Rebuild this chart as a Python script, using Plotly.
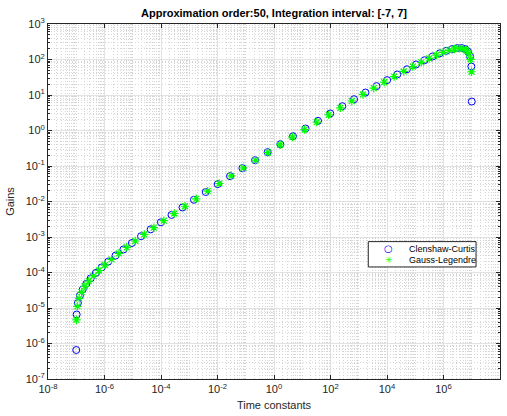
import plotly.graph_objects as go

# Clenshaw-Curtis: time constants and gains
cc_tau = [1.000e-7, 1.034e-7, 1.142e-7, 1.346e-7, 1.694e-7, 2.273e-7, 3.248e-7, 4.933e-7,
          7.958e-7, 1.360e-6, 2.455e-6, 4.676e-6, 9.367e-6, 1.967e-5, 4.321e-5, 9.890e-5,
          2.351e-4, 5.783e-4, 1.467e-3, 3.823e-3, 1.019e-2, 2.769e-2, 7.636e-2, 0.2127, 0.5966,
          1.676, 4.701, 13.10, 36.10, 98.09, 261.6, 681.6, 1729, 4254, 10111,
          23140, 50830, 106760, 213800, 407300, 735600, 1.257e6, 2.027e6, 3.079e6, 4.399e6,
          5.904e6, 7.429e6, 8.759e6, 9.673e6, 1.0e7]
cc_gain = [6.55e-7, 6.56e-6, 1.38e-5, 2.23e-5, 3.33e-5, 4.79e-5, 6.81e-5, 9.71e-5,
           1.39e-4, 2.03e-4, 2.99e-4, 4.46e-4, 6.78e-4, 1.05e-3, 1.64e-3, 2.60e-3,
           4.18e-3, 6.79e-3, 1.12e-2, 1.85e-2, 3.08e-2, 5.17e-2, 8.69e-2, 0.146, 0.246,
           0.412, 0.688, 1.138, 1.866, 3.026, 4.835, 7.605, 11.74, 17.77, 26.27,
           37.89, 53.18, 72.42, 95.50, 121.6, 149.1, 175.2, 196.7, 209.7, 210.5,
           196.4, 166.0, 120.6, 63.49, 6.545]

# Gauss-Legendre: time constants and gains
gl_tau = [1.018e-7, 1.100e-7, 1.266e-7, 1.548e-7, 2.011e-7, 2.774e-7, 4.056e-7, 6.279e-7,
          1.027e-6, 1.773e-6, 3.220e-6, 6.142e-6, 1.227e-5, 2.562e-5, 5.571e-5, 1.258e-4,
          2.942e-4, 7.099e-4, 1.762e-3, 4.481e-3, 1.164e-2, 3.075e-2, 8.236e-2, 0.2227, 0.6058,
          1.651, 4.489, 12.14, 32.52, 85.92, 223.1, 567.6, 1408.7, 3399, 7949,
          17953, 39038, 81487, 162827, 310508, 564201, 973335, 1.5926e6, 2.4646e6, 3.6044e6,
          4.9729e6, 6.4627e6, 7.9025e6, 9.0908e6, 9.8266e6]
gl_gain = [4.60e-6, 1.11e-5, 1.87e-5, 2.81e-5, 4.04e-5, 5.70e-5, 8.03e-5, 1.14e-4,
           1.62e-4, 2.35e-4, 3.44e-4, 5.12e-4, 7.72e-4, 1.18e-3, 1.83e-3, 2.88e-3,
           4.58e-3, 7.36e-3, 1.19e-2, 1.95e-2, 3.21e-2, 5.29e-2, 8.77e-2, 0.145, 0.240,
           0.397, 0.652, 1.064, 1.722, 2.754, 4.351, 6.772, 10.36, 15.56, 22.89,
           32.90, 46.11, 62.90, 83.29, 106.8, 132.4, 158.0, 180.9, 197.9, 205.5,
           200.7, 181.7, 148.0, 101.3, 45.20]

series_names = ["Clenshaw-Curtis", "Gauss-Legendre"]

x_exponents = [-8, -6, -4, -2, 0, 2, 4, 6, 8]
y_exponents = [-7, -6, -5, -4, -3, -2, -1, 0, 1, 2, 3]

x_ticks = [10.0 ** e for e in x_exponents]
x_ticktext = ["10<sup>%d</sup>" % e for e in x_exponents]
y_ticks = [10.0 ** e for e in y_exponents]
y_ticktext = ["10<sup>%d</sup>" % e for e in y_exponents]

# minor grid positions (MATLAB style: every 1..9 x decade, excluding major ticks)
x_minor = [k * 10.0 ** d for d in range(-8, 8) for k in range(1, 10)
           if not (k == 1 and d % 2 == 0)]
y_minor = [k * 10.0 ** d for d in range(-7, 3) for k in range(2, 10)]

FONT = "Liberation Sans, Arial, Helvetica, sans-serif"
AX = "#262626"
MINOR = "#d6d6d6"

fig = go.Figure()
# empty trace to hold the minor-grid overlay axes
fig.add_trace(go.Scatter(x=[], y=[], xaxis="x2", yaxis="y2", showlegend=False,
                         hoverinfo="skip", mode="markers"))
fig.add_trace(go.Scatter(
    x=cc_tau, y=cc_gain, mode="markers", name=series_names[0], showlegend=False,
    marker=dict(symbol="circle-open", size=7, color="#0000ff", line=dict(width=1, color="#0000ff")),
))
fig.add_trace(go.Scatter(
    x=gl_tau, y=gl_gain, mode="markers", name=series_names[1], showlegend=False,
    marker=dict(symbol="asterisk-open", size=7, color="#00ff00", line=dict(width=1.2, color="#00ff00")),
))

tickfont = dict(family=FONT, size=11, color=AX)

fig.update_layout(
    width=507, height=416,
    margin=dict(l=48, r=6, t=24, b=35),
    paper_bgcolor="white", plot_bgcolor="white",
    showlegend=False,
    title=dict(text="<b>Approximation order:50, Integration interval: [-7, 7]</b>",
               x=0.5, xref="paper", xanchor="center", y=1 - 13 / 416, yanchor="middle",
               font=dict(family=FONT, size=11, color="black")),
    xaxis=dict(type="log", range=[-8, 8], tickvals=x_ticks, ticktext=x_ticktext,
               showline=True, linecolor=AX, linewidth=1, mirror="allticks",
               ticks="inside", ticklen=4, tickcolor=AX, tickfont=tickfont,
               showgrid=True, gridcolor="#e2e2e2", gridwidth=1, zeroline=False,
               title=dict(text="Time constants", font=dict(family=FONT, size=11, color=AX),
                          standoff=7)),
    yaxis=dict(type="log", range=[-7, 3], tickvals=y_ticks, ticktext=y_ticktext,
               showline=True, linecolor=AX, linewidth=1, mirror="allticks",
               ticks="inside", ticklen=4, tickcolor=AX, tickfont=tickfont,
               showgrid=True, gridcolor="#e2e2e2", gridwidth=1, zeroline=False,
               title=dict(text="Gains", font=dict(family=FONT, size=11, color=AX),
                          standoff=8)),
    xaxis2=dict(type="log", range=[-8, 8], overlaying="x", anchor="y2", side="bottom",
                tickvals=x_minor, showticklabels=False, ticks="",
                showgrid=True, gridcolor=MINOR, griddash="1px,2px", gridwidth=1,
                showline=False, zeroline=False),
    yaxis2=dict(type="log", range=[-7, 3], overlaying="y", anchor="x2", side="left",
                tickvals=y_minor, showticklabels=False, ticks="inside", ticklen=2,
                tickcolor=AX, mirror="allticks", showline=True, linecolor=AX, linewidth=1,
                showgrid=True, gridcolor=MINOR, griddash="1px,2px", gridwidth=1,
                zeroline=False),
)

# compact MATLAB-style legend box
lx0, lx1, ly0, ly1 = 0.7086, 0.947, 0.3156, 0.387
fig.add_shape(type="rect", xref="paper", yref="paper", x0=lx0, x1=lx1, y0=ly0, y1=ly1,
              line=dict(color=AX, width=1), fillcolor="white", layer="above")
rows = [0.3675, 0.3352]
glyphs = [("\u25CB", "#0000ff", 10), ("\u2733", "#00ff00", 9)]
for name, yy, (g, col, gs) in zip(series_names, rows, glyphs):
    fig.add_annotation(x=0.7535, y=yy, xref="paper", yref="paper", text=g, showarrow=False,
                       xanchor="center", yanchor="middle", borderpad=0,
                       font=dict(family="DejaVu Sans", size=gs, color=col))
    fig.add_annotation(x=0.797, y=yy, xref="paper", yref="paper", text=name, showarrow=False,
                       xanchor="left", yanchor="middle", borderpad=0,
                       font=dict(family=FONT, size=9, color="black"))

fig.write_html("out.html")
